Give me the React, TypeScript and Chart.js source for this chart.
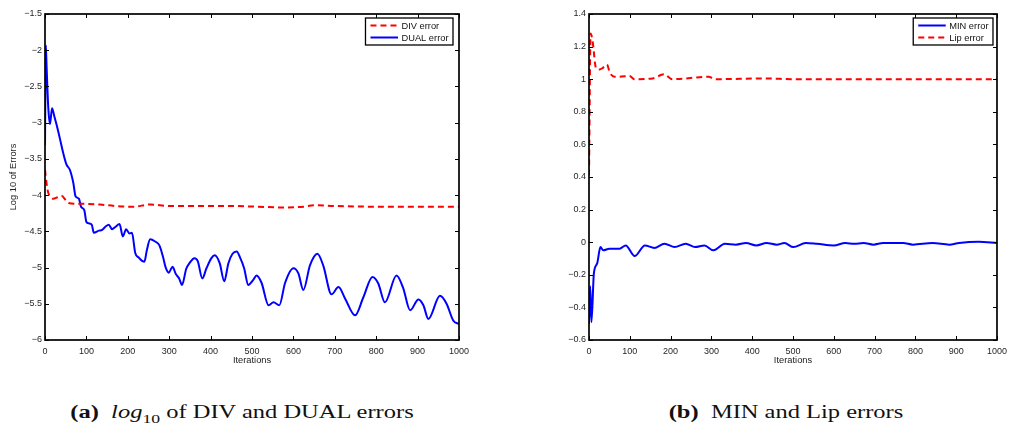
import React, { useEffect, useRef } from "react";
import { Chart, registerables } from "chart.js";

Chart.register(...registerables);

// ---------- data ----------
const DUAL_ITER = [0, 2, 4, 8, 12, 17, 22, 28, 36, 44, 52, 60, 68, 74, 82, 87, 95, 100, 106, 113, 118, 130, 138, 147, 154, 162, 170, 180, 188, 196, 204, 210, 218, 226, 240, 246, 254, 266, 276, 285, 291, 299, 308, 316, 324, 331, 341, 349, 361, 369, 380, 390, 402, 410, 422, 433, 443, 453, 463, 471, 481, 491, 503, 511, 523, 540, 552, 566, 580, 600, 612, 624, 640, 658, 672, 692, 709, 725, 749, 769, 791, 805, 821, 849, 865, 882, 902, 914, 926, 954, 970, 986, 1000];
const DUAL_ERR = [-3.31, -1.93, -2.25, -2.8, -3.02, -2.8, -2.9, -3.03, -3.22, -3.42, -3.58, -3.65, -3.82, -4.02, -4.05, -4.16, -4.21, -4.37, -4.39, -4.41, -4.52, -4.49, -4.48, -4.43, -4.41, -4.47, -4.44, -4.4, -4.57, -4.47, -4.53, -4.52, -4.8, -4.86, -4.92, -4.76, -4.61, -4.64, -4.69, -4.85, -4.99, -5.07, -4.99, -5.09, -5.15, -5.24, -5.02, -4.94, -4.87, -4.91, -5.15, -5.01, -4.87, -4.83, -4.94, -5.19, -4.94, -4.81, -4.78, -4.86, -5.01, -5.24, -5.17, -5.11, -5.21, -5.52, -5.48, -5.52, -5.21, -5.01, -5.08, -5.31, -4.97, -4.81, -4.97, -5.37, -5.27, -5.43, -5.66, -5.41, -5.13, -5.22, -5.48, -5.11, -5.28, -5.59, -5.44, -5.52, -5.71, -5.39, -5.5, -5.73, -5.78];

const DIV_ITER = [0, 4, 8, 14, 20, 30, 40, 50, 57, 75, 93, 133, 170, 213, 254, 300, 374, 450, 511, 575, 624, 650, 700, 800, 900, 1000];
const DIV_ERR = [-3.65, -3.85, -3.97, -4.02, -4.05, -4.03, -4.01, -4.07, -4.11, -4.12, -4.12, -4.13, -4.15, -4.16, -4.13, -4.15, -4.15, -4.15, -4.16, -4.17, -4.16, -4.14, -4.15, -4.16, -4.16, -4.16];

const MIN_ITER = [0, 3, 6, 12, 20, 28, 35, 50, 75, 90, 112, 137, 160, 185, 210, 237, 260, 283, 305, 333, 360, 385, 410, 435, 460, 479, 501, 531, 559, 600, 628, 650, 673, 697, 721, 770, 794, 842, 883, 907, 955, 1000];
const MIN_ERR = [-0.5, -0.27, -0.49, -0.19, -0.13, -0.03, -0.05, -0.04, -0.04, -0.02, -0.085, -0.02, -0.035, -0.01, -0.03, -0.01, -0.03, -0.02, -0.05, -0.01, -0.015, -0.005, -0.02, -0.005, -0.015, -0.005, -0.03, -0.005, -0.01, -0.02, -0.005, -0.01, -0.005, -0.015, -0.005, -0.005, -0.015, -0.005, -0.015, -0.005, 0.002, -0.005];

const LIP_ITER = [0, 4, 9, 17, 26, 34, 44, 51, 63, 75, 99, 111, 156, 184, 204, 293, 309, 434, 500, 1000];
const LIP_ERR = [0.41, 1.28, 1.23, 1.07, 1.06, 1.07, 1.09, 1.04, 1.015, 1.015, 1.02, 1.0, 1.005, 1.03, 1.0, 1.015, 1.0, 1.005, 1.0, 1.0];

const X_TICKS = [0, 100, 200, 300, 400, 500, 600, 700, 800, 900, 1000];
const Y_TICKS_A = [-6, -5.5, -5, -4.5, -4, -3.5, -3, -2.5, -2, -1.5];
const Y_TICKS_B = [-0.6, -0.4, -0.2, 0, 0.2, 0.4, 0.6, 0.8, 1, 1.2, 1.4];

const X_TITLE = "Iterations";
const Y_TITLE_A = "Log 10 of Errors";

// ---------- helpers ----------
const SANS = '"Liberation Sans", Arial, Helvetica, sans-serif';
const TICK_COLOR = "#262626";
const fmt = (v: number | string) =>
  String(parseFloat(Number(v).toFixed(2))).replace("-", "\u2212");

const pts = (xs: number[], ys: number[]) => xs.map((x, i) => ({ x, y: ys[i] }));

const framePlugin = {
  id: "matlabFrame",
  afterDatasetsDraw(chart: any, _args: any, opts: any) {
    const { ctx, chartArea: a, scales } = chart;
    const xs = scales.x;
    const ys = scales.y;
    ctx.save();
    ctx.strokeStyle = "#000";
    ctx.lineWidth = 1;
    const tl = 4;
    ctx.beginPath();
    xs.ticks.forEach((t: any) => {
      const px = Math.round(xs.getPixelForValue(t.value)) + 0.5;
      ctx.moveTo(px, a.bottom);
      ctx.lineTo(px, a.bottom - tl);
      ctx.moveTo(px, a.top);
      ctx.lineTo(px, a.top + tl);
    });
    ys.ticks.forEach((t: any) => {
      const py = Math.round(ys.getPixelForValue(t.value)) + 0.5;
      ctx.moveTo(a.left, py);
      ctx.lineTo(a.left + tl, py);
      ctx.moveTo(a.right, py);
      ctx.lineTo(a.right - tl, py);
    });
    ctx.stroke();
    ctx.lineWidth = 1.7;
    ctx.strokeRect(a.left, a.top, a.right - a.left, a.bottom - a.top);

    // legend box
    const ds = chart.data.datasets;
    const fontPx = 9.3;
    ctx.font = `${fontPx}px ${SANS}`;
    const textW = Math.max(...ds.map((d: any) => ctx.measureText(d.label).width));
    const padL = 5, sample = 27.5, gap = 3.5, padR = 4.5, rowH = 12;
    const boxW = padL + sample + gap + textW + padR;
    const boxH = 7.5 + rowH * (ds.length - 1) + 7.5;
    const bx = a.right - opts.insetRight - boxW;
    const by = a.top + opts.insetTop;
    ctx.fillStyle = "#fff";
    ctx.fillRect(bx, by, boxW, boxH);
    ctx.lineWidth = 1.3;
    ctx.strokeStyle = "#000";
    ctx.strokeRect(bx, by, boxW, boxH);
    ds.forEach((d: any, i: number) => {
      const cy = by + 7.5 + i * rowH;
      ctx.save();
      ctx.strokeStyle = d.borderColor;
      ctx.lineWidth = d.borderWidth;
      ctx.setLineDash(d.borderDash || []);
      ctx.beginPath();
      ctx.moveTo(bx + padL, cy);
      ctx.lineTo(bx + padL + sample, cy);
      ctx.stroke();
      ctx.restore();
      ctx.fillStyle = "#111";
      ctx.textBaseline = "middle";
      ctx.textAlign = "left";
      ctx.fillText(d.label, bx + padL + sample + gap, cy + 0.5);
    });
    ctx.restore();
  },
};

type Area = { left: number; top: number; right: number; bottom: number };

function Panel(props: {
  left: number;
  width: number;
  height: number;
  area: Area;
  build: () => any[];
  yTicks: number[];
  yMin: number;
  yMax: number;
  yTitle?: string;
  insetRight: number;
  insetTop: number;
}) {
  const ref = useRef<HTMLCanvasElement | null>(null);
  useEffect(() => {
    const { width, height, area } = props;
    const tickFont = { family: SANS, size: 9 };
    const titleFont = { family: SANS, size: 9.3 };
    const chart = new Chart(ref.current as HTMLCanvasElement, {
      type: "line",
      data: { datasets: props.build() },
      options: {
        animation: false,
        responsive: false,
        devicePixelRatio: 1,
        layout: { padding: { left: 0, top: area.top, right: width - area.right, bottom: 0 } },
        elements: { point: { radius: 0 } },
        plugins: {
          legend: { display: false },
          tooltip: { enabled: false },
          matlabFrame: { insetRight: props.insetRight, insetTop: props.insetTop },
        } as any,
        scales: {
          x: {
            type: "linear",
            min: 0,
            max: 1000,
            grid: { display: false, drawTicks: false },
            border: { display: false },
            afterBuildTicks: (s: any) => {
              s.ticks = X_TICKS.map((v) => ({ value: v }));
            },
            afterFit: (s: any) => {
              s.height = height - area.bottom;
            },
            ticks: {
              font: tickFont,
              color: TICK_COLOR,
              padding: 6,
              maxRotation: 0,
              autoSkip: false,
              callback: (v: any) => fmt(v),
            },
            title: {
              display: true,
              text: X_TITLE,
              font: titleFont,
              color: "#222",
              padding: { top: 0, bottom: 9 },
            },
          },
          y: {
            type: "linear",
            min: props.yMin,
            max: props.yMax,
            grid: { display: false, drawTicks: false },
            border: { display: false },
            afterBuildTicks: (s: any) => {
              s.ticks = props.yTicks.map((v) => ({ value: v }));
            },
            afterFit: (s: any) => {
              s.width = area.left;
            },
            ticks: {
              font: tickFont,
              color: TICK_COLOR,
              padding: 3,
              autoSkip: false,
              callback: (v: any) => fmt(v),
            },
            title: {
              display: !!props.yTitle,
              text: props.yTitle || "",
              font: titleFont,
              color: "#222",
              padding: { top: 7.9, bottom: 0 },
            },
          },
        },
      } as any,
      plugins: [framePlugin as any],
    });
    return () => chart.destroy();
  }, []);
  return (
    <canvas
      ref={ref}
      width={props.width}
      height={props.height}
      style={{ position: "absolute", left: props.left, top: 0, width: props.width, height: props.height }}
    />
  );
}

const RED = "#ff0000";
const BLUE = "#0000ff";

const buildA = () => [
  {
    label: "DIV error",
    data: pts(DIV_ITER, DIV_ERR),
    borderColor: RED,
    borderWidth: 2,
    borderDash: [6, 4],
    cubicInterpolationMode: "monotone",
    fill: false,
  },
  {
    label: "DUAL error",
    data: pts(DUAL_ITER, DUAL_ERR),
    borderColor: BLUE,
    borderWidth: 2,
    cubicInterpolationMode: "monotone",
    fill: false,
  },
];

const buildB = () => [
  {
    label: "MIN error",
    data: pts(MIN_ITER, MIN_ERR),
    borderColor: BLUE,
    borderWidth: 2,
    cubicInterpolationMode: "monotone",
    fill: false,
  },
  {
    label: "Lip error",
    data: pts(LIP_ITER, LIP_ERR),
    borderColor: RED,
    borderWidth: 2,
    borderDash: [6, 4],
    cubicInterpolationMode: "monotone",
    fill: false,
  },
];

const captionStyle: React.CSSProperties = {
  position: "absolute",
  top: 401,
  height: 22,
  lineHeight: "22px",
  width: 500,
  textAlign: "center",
  fontFamily: '"Liberation Serif", "Times New Roman", serif',
  fontSize: 18,
  color: "#111",
  whiteSpace: "nowrap",
  transform: "scaleX(1.36)",
  transformOrigin: "50% 50%",
};

export default function App() {
  return (
    <div style={{ position: "absolute", left: 0, top: 0, width: 1013, height: 425, background: "#fff", overflow: "hidden" }}>
      <Panel
        left={0}
        width={505}
        height={375}
        area={{ left: 45, top: 14, right: 459, bottom: 340 }}
        build={buildA}
        yTicks={Y_TICKS_A}
        yMin={-6}
        yMax={-1.5}
        yTitle={Y_TITLE_A}
        insetRight={6}
        insetTop={4}
      />
      <Panel
        left={515}
        width={498}
        height={375}
        area={{ left: 74, top: 14, right: 487, bottom: 340 }}
        build={buildB}
        yTicks={Y_TICKS_B}
        yMin={-0.6}
        yMax={1.4}
        insetRight={4}
        insetTop={4}
      />
      <div style={{ ...captionStyle, left: 242 - 250 }}>
        <b>(a)</b>&nbsp; <i>log</i>
        <sub style={{ fontSize: 13 }}>10</sub> of DIV and DUAL errors
      </div>
      <div style={{ ...captionStyle, left: 786 - 250 }}>
        <b>(b)</b>&nbsp; MIN and Lip errors
      </div>
    </div>
  );
}
